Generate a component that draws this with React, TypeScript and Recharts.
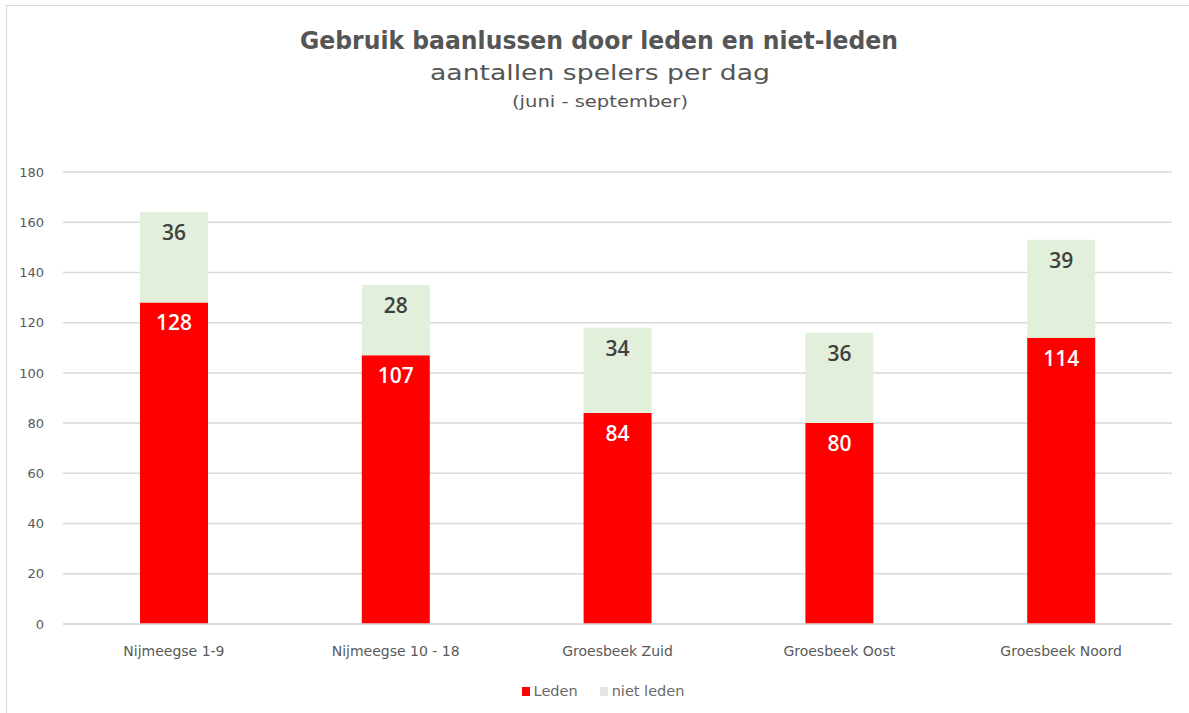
import React from "react";
import { BarChart, Bar, XAxis, YAxis, CartesianGrid, LabelList, Legend } from "recharts";

const categories = ["Nijmeegse 1-9", "Nijmeegse 10 - 18", "Groesbeek Zuid", "Groesbeek Oost", "Groesbeek Noord"];
const leden = [128, 107, 84, 80, 114];
const nietLeden = [36, 28, 34, 36, 39];
const yTicks = [0, 20, 40, 60, 80, 100, 120, 140, 160, 180];
const seriesNames = ["Leden", "niet leden"];
const seriesColors = ["#ff0000", "#e2efda"];
const legendColors = ["#ff0000", "#e4e4e4"];

const data = categories.map((name, i) => ({ name, leden: leden[i], nietLeden: nietLeden[i] }));

const titleFont = "'DejaVu Sans', sans-serif";
const bodyFont = "'DejaVu Sans', sans-serif";

const renderLegend = () => (
  <div style={{ height: 20, paddingLeft: 34, display: "flex", justifyContent: "center", alignItems: "center", fontFamily: bodyFont, fontSize: 14.5, color: "#6a6a6a" }}>
    {seriesNames.map((n, i) => (
      <span key={n} style={{ display: "inline-flex", alignItems: "center", marginRight: i === 0 ? 22 : 0 }}>
        <span style={{ display: "inline-block", width: 8, height: 9, background: legendColors[i], marginRight: 4 }} />
        {n}
      </span>
    ))}
  </div>
);

export default function App() {
  return (
    <div style={{ position: "absolute", left: 0, top: 0, width: 1189, height: 713, background: "#fff" }}>
      <div style={{ position: "absolute", left: 6, top: 5, width: 1200, height: 720, border: "1px solid #d9d9d9", boxSizing: "border-box" }} />
      <svg width={1189} height={130} style={{ position: "absolute", left: 0, top: 0 }}>
        <g fill="#555555" fontFamily={titleFont} textAnchor="middle">
          <text x={599} y={49} fontSize={25} fontWeight="bold" textLength={598} lengthAdjust="spacingAndGlyphs">
            Gebruik baanlussen door leden en niet-leden
          </text>
          <text x={600} y={80} fontSize={22} textLength={340} lengthAdjust="spacingAndGlyphs">
            aantallen spelers per dag
          </text>
          <text x={600} y={107} fontSize={16} textLength={176} lengthAdjust="spacingAndGlyphs">
            (juni - september)
          </text>
        </g>
      </svg>
      <BarChart
        width={1189}
        height={713}
        data={data}
        margin={{ top: 172, right: 17, bottom: 39, left: 0 }}
        barSize={68}
        style={{ position: "absolute", left: 0, top: 0 }}
      >
        <CartesianGrid vertical={false} stroke="#d9d9d9" strokeWidth={1.5} />
        <XAxis
          dataKey="name"
          axisLine={{ stroke: "#d9d9d9", strokeWidth: 1.5 }}
          tickLine={false}
          tick={{ fill: "#595959", fontSize: 14, fontFamily: bodyFont }}
          tickMargin={16}
        />
        <YAxis
          width={63}
          domain={[0, 180]}
          ticks={yTicks}
          axisLine={false}
          tickLine={false}
          tickMargin={13}
          tick={{ fill: "#595959", fontSize: 13, fontFamily: bodyFont }}
        />
        <Legend verticalAlign="bottom" align="center" content={renderLegend} wrapperStyle={{ bottom: 12 }} />
        <Bar dataKey="leden" name={seriesNames[0]} stackId="a" fill={seriesColors[0]} isAnimationActive={false}>
          <LabelList
            dataKey="leden"
            position="insideTop"
            offset={13}
            fill="#ffffff"
            style={{ fontSize: 21, fontWeight: 600, fontFamily: "'Open Sans', sans-serif" }}
          />
        </Bar>
        <Bar dataKey="nietLeden" name={seriesNames[1]} stackId="a" fill={seriesColors[1]} isAnimationActive={false}>
          <LabelList
            dataKey="nietLeden"
            position="insideTop"
            offset={13}
            fill="#404040"
            style={{ fontSize: 21, fontWeight: 600, fontFamily: "'Open Sans', sans-serif" }}
          />
        </Bar>
      </BarChart>
    </div>
  );
}
